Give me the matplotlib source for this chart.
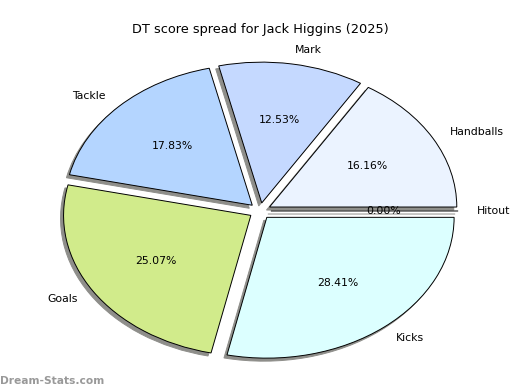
import matplotlib
matplotlib.use('Agg')
import matplotlib.pyplot as plt

labels = ['Handballs', 'Mark', 'Tackle', 'Goals', 'Kicks', 'Hitout']
values = [16.16, 12.53, 17.83, 25.07, 28.41, 0.00]
colors = ['#EBF3FF', '#C5D9FF', '#B4D5FF', '#D1EB8B', '#DCFFFF', '#FFE0E0']
explode = [0.06] * len(values)

fig = plt.figure(figsize=(5.2, 3.9), dpi=100)
ax = fig.add_axes([0.065, 0.023, 0.87, 0.872])

wedges, texts, autotexts = ax.pie(values, labels=labels, colors=colors, explode=explode,
                                  autopct='%1.2f%%', startangle=0, radius=1.035,
                                  shadow={'ox': -0.012, 'oy': -0.016, 'alpha': 1.0,
                                          'facecolor': '#8e8e8a', 'edgecolor': '#8e8e8a'},
                                  wedgeprops=dict(edgecolor='black', linewidth=0.7),
                                  textprops=dict(fontsize=7.8))
ax.set_aspect('auto')
ax.set_xlim(-1.25, 1.25)
ax.set_ylim(-1.25, 1.25)

ax.set_title('DT score spread for Jack Higgins (2025)', fontsize=9.3)

fig.text(0.0, 0.01, 'Dream-Stats.com', fontsize=7.7, color='#999999',
         fontweight='bold', ha='left', va='bottom')

plt.savefig('out.png', dpi=100)
